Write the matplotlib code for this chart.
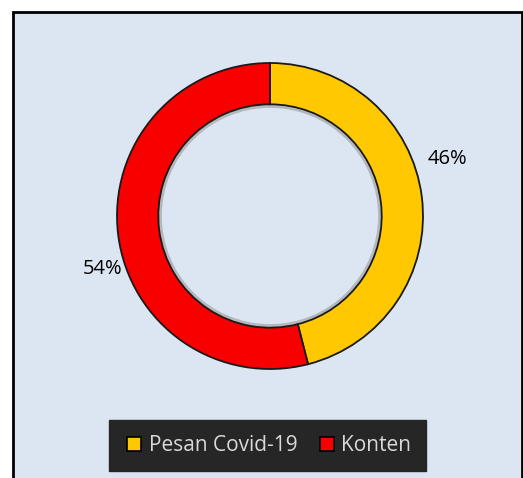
import numpy as np
import matplotlib
matplotlib.use("Agg")
from matplotlib import pyplot as plt
from matplotlib.patches import Rectangle, Circle
from matplotlib.lines import Line2D

# Data
labels = ["Pesan Covid-19", "Konten"]
shares = [46, 54]
colors = ["#ffc800", "#f80000"]

plt.rcParams['font.family'] = ['Open Sans', 'DejaVu Sans']

W, H = 523, 478
fig = plt.figure(figsize=(W / 100, H / 100), dpi=100, facecolor="white")

# Chart area panel (behind everything)
fig.patches.append(Rectangle((13 / W, -0.05), (522 - 13) / W, (H - 12) / H + 0.05,
                             transform=fig.transFigure, facecolor="#dce6f2",
                             edgecolor="black", linewidth=2, zorder=-10))

# Donut axes: centre at (270, 216) px from top-left, radius ~153 px
cx, cy, half = 270, H - 216, 180
ax = fig.add_axes([(cx - half) / W, (cy - half) / H, 2 * half / W, 2 * half / H])
ax.set_facecolor("none")

ring = 0.27
wedges, _ = ax.pie(shares, colors=colors, startangle=90, counterclock=False,
                   radius=1.0, wedgeprops=dict(width=ring, edgecolor="#1a1a1a", linewidth=1.3))
# soft shadow on the inner edge
ax.add_patch(Circle((0, 0), 1 - ring - 0.012, fill=False, edgecolor="#9a9a9a",
                    linewidth=2.5, alpha=0.6, zorder=0))
lim = half / 153
ax.set_xlim(-lim, lim)
ax.set_ylim(-lim, lim)
ax.set_aspect("equal")
ax.axis("off")

# Percent labels placed a bit off the mid-angle (as in the original)
for w, s, dist in zip(wedges, shares, [1.22, 1.15]):
    mid = np.deg2rad((w.theta1 + w.theta2) / 2 + 10.5)
    ax.text(dist * np.cos(mid), dist * np.sin(mid), f"{s}%", ha="center", va="center",
            fontsize=14.5, color="black")

# Legend
handles = [Line2D([], [], marker="s", linestyle="none", markersize=9.5, markerfacecolor=c,
                  markeredgecolor="black", markeredgewidth=1.2) for c in colors]
leg = fig.legend(handles, labels, loc="center", bbox_to_anchor=(267.5 / W, 32.5 / H),
                 ncol=2, frameon=True, fancybox=False, facecolor="#262626", edgecolor="#262626",
                 framealpha=1, fontsize=15, handletextpad=0.2, columnspacing=0.9,
                 handlelength=1.0, borderpad=0.7, borderaxespad=0)
for t in leg.get_texts():
    t.set_color("#d9d9d9")

fig.savefig("out.png", dpi=100, facecolor="white")
